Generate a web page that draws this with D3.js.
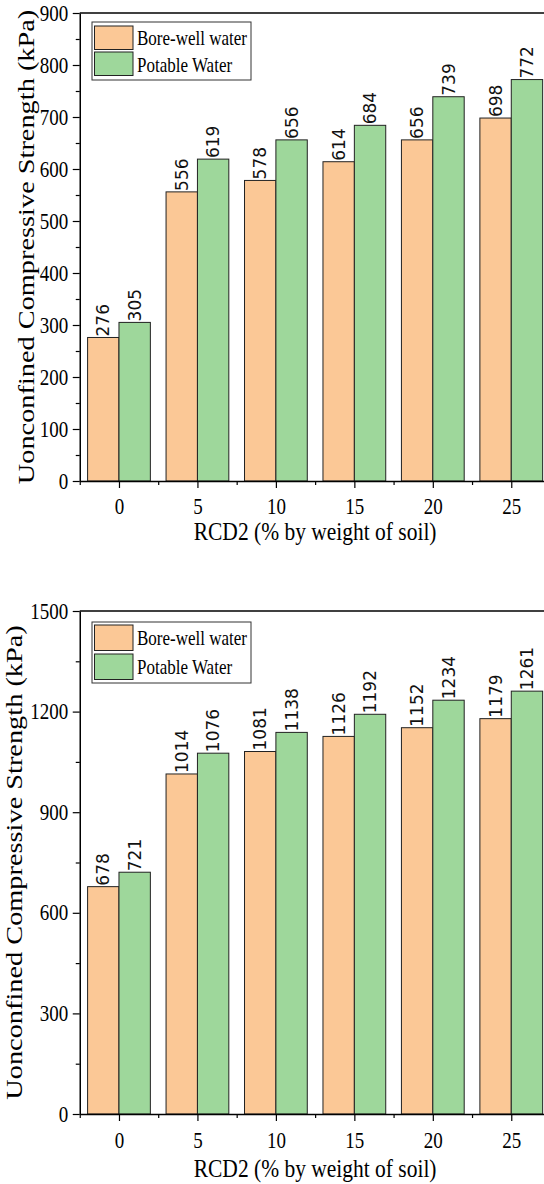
<!DOCTYPE html>
<html>
<head>
<meta charset="utf-8">
<script src="https://cdn.jsdelivr.net/npm/d3@7"></script>
<style>
  html, body { margin: 0; padding: 0; background: #fff; }
  svg { display: block; }
  .serif { font-family: 'Liberation Serif', 'DejaVu Serif', serif; }
</style>
</head>
<body>
<svg id="chart" width="544" height="1184"></svg>
<script>
// data
const categories = [0, 5, 10, 15, 20, 25];
const seriesNames = ['Bore-well water', 'Potable Water'];

const boreTop = [276, 556, 578, 614, 656, 698];
const potableTop = [305, 619, 656, 684, 739, 772];
const ticksTop = [0, 100, 200, 300, 400, 500, 600, 700, 800, 900];

const boreBottom = [678, 1014, 1081, 1126, 1152, 1179];
const potableBottom = [721, 1076, 1138, 1192, 1234, 1261];
const ticksBottom = [0, 300, 600, 900, 1200, 1500];

const COLORS = ['#fbc896', '#9ed79b'];
const STRETCH = 1.17; // figure text is a bit taller than wide

const svg = d3.select('#chart');

function drawChart(cfg) {
  const x = d3.scaleLinear().domain([-2.5, 27.5]).range([79.75, 550.5]);
  const y = d3.scaleLinear().domain([0, cfg.max]).range([cfg.bottom, cfg.top]);
  const g = svg.append('g');
  const series = [cfg.bore, cfg.potable];

  // bars
  series.forEach((vals, si) => {
    const rows = categories.map((c, i) => ({ c, v: vals[i] }));
    g.append('g').selectAll('rect')
      .data(rows)
      .join('rect')
      .attr('x', d => si === 0 ? x(d.c - 2) : x(d.c))
      .attr('width', d => x(d.c + 2) - x(d.c))
      .attr('y', d => y(d.v))
      .attr('height', d => y(0) - y(d.v))
      .attr('fill', COLORS[si])
      .attr('stroke', '#222')
      .attr('stroke-width', 1);

    g.append('g').selectAll('text')
      .data(rows)
      .join('text')
      .attr('transform', d => `translate(${si === 0 ? x(d.c - 1) : x(d.c + 1)},${y(d.v) - 1}) rotate(-90)`)
      .attr('dy', '0.36em')
      .style('font-family', "'DejaVu Sans', sans-serif")
      .style('font-size', '17px')
      .attr('fill', '#111')
      .text(d => d.v);
  });

  // frame top line
  g.append('line')
    .attr('x1', x(-2.5)).attr('x2', x(27.5))
    .attr('y1', y(cfg.max)).attr('y2', y(cfg.max))
    .attr('stroke', '#000').attr('stroke-width', 1.5);

  // y axis
  const minorY = d3.range(cfg.step / 2, cfg.max, cfg.step);
  g.append('g')
    .attr('transform', `translate(${x(-2.5)},0)`)
    .call(d3.axisLeft(y).tickValues(minorY).tickSize(4).tickFormat(''))
    .call(a => a.select('.domain').remove());
  const ya = g.append('g')
    .attr('transform', `translate(${x(-2.5)},0)`)
    .call(d3.axisLeft(y).tickValues(cfg.ticks).tickSize(7).tickSizeOuter(0).tickPadding(4.5).tickFormat(d3.format('d')));
  ya.attr('font-family', null);
  ya.selectAll('text')
    .attr('class', 'serif').style('font-size', '19px').attr('fill', '#000')
    .attr('transform', `scale(1,${STRETCH})`);

  // x axis
  const minorX = categories.map(c => c - 2.5).concat([27.5]);
  g.append('g')
    .attr('transform', `translate(0,${y(0)})`)
    .call(d3.axisBottom(x).tickValues(minorX).tickSize(4).tickFormat(''))
    .call(a => a.select('.domain').remove());
  const xa = g.append('g')
    .attr('transform', `translate(0,${y(0)})`)
    .call(d3.axisBottom(x).tickValues(categories).tickSize(7).tickSizeOuter(0));
  xa.attr('font-family', null);
  xa.selectAll('text')
    .attr('class', 'serif').style('font-size', '19px').attr('fill', '#000')
    .attr('y', cfg.xLabelOff / STRETCH).attr('dy', 0)
    .attr('transform', `scale(1,${STRETCH})`);

  g.selectAll('.domain').attr('stroke-width', 1.5);
  g.selectAll('.tick line').attr('stroke-width', 1.2);

  // axis titles
  g.append('text')
    .attr('class', 'serif')
    .attr('transform', `translate(${(x(-2.5) + x(27.5)) / 2},${cfg.xTitleY}) scale(1,${STRETCH})`)
    .attr('text-anchor', 'middle')
    .style('font-size', '21.5px')
    .text('RCD2 (% by weight of soil)');

  g.append('text')
    .attr('class', 'serif')
    .attr('transform', `translate(${cfg.yTitleX},${(cfg.top + cfg.bottom) / 2}) rotate(-90) scale(${cfg.titleStretch},1)`)
    .attr('text-anchor', 'middle')
    .style('font-size', '22.5px')
    .text('Uonconfined Compressive Strength (kPa)');

  // legend
  const lg = g.append('g');
  lg.append('rect')
    .attr('x', 92).attr('y', cfg.legend.y)
    .attr('width', 159).attr('height', cfg.legend.h)
    .attr('fill', '#fff').attr('stroke', '#333').attr('stroke-width', 1);
  seriesNames.forEach((name, i) => {
    const sy = cfg.legend.swatches[i];
    lg.append('rect')
      .attr('x', 94.5).attr('y', sy)
      .attr('width', 38.5).attr('height', cfg.legend.sh)
      .attr('fill', COLORS[i]).attr('stroke', '#222').attr('stroke-width', 1);
    lg.append('text')
      .attr('class', 'serif')
      .attr('transform', `translate(137,${cfg.legend.text[i]}) scale(1,${STRETCH})`)
      .style('font-size', '17px')
      .text(name);
  });
}

drawChart({
  bore: boreTop, potable: potableTop, ticks: ticksTop, max: 900, step: 100,
  top: 13, bottom: 481, xLabelOff: 33, xTitleY: 540, yTitleX: 33.5, titleStretch: 1.26,
  legend: { y: 22, h: 58, swatches: [26, 52], sh: 23.5, text: [45, 71.5] }
});

drawChart({
  bore: boreBottom, potable: potableBottom, ticks: ticksBottom, max: 1500, step: 300,
  top: 611, bottom: 1114, xLabelOff: 34, xTitleY: 1176.5, yTitleX: 22, titleStretch: 1.26,
  legend: { y: 622, h: 61, swatches: [625, 654], sh: 25.5, text: [645, 674] }
});
</script>
</body>
</html>
